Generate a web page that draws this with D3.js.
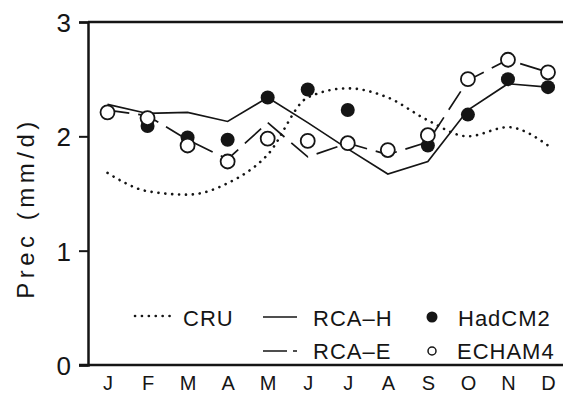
<!DOCTYPE html>
<html><head><meta charset="utf-8">
<script src="https://cdn.jsdelivr.net/npm/d3@7"></script>
<style>
html,body{margin:0;padding:0;background:#fff;}
svg{display:block;font-family:"Liberation Sans",Arial,sans-serif;}
</style></head>
<body>
<svg id="chart" width="563" height="395"></svg>
<script>
const months = ["J","F","M","A","M","J","J","A","S","O","N","D"];
const cru    = [1.68,1.52,1.49,1.59,1.84,2.34,2.42,2.34,2.14,2.00,2.08,1.92];
const rcaH   = [2.28,2.20,2.21,2.13,2.34,2.12,1.89,1.67,1.78,2.23,2.46,2.43];
const rcaE   = [2.23,2.18,1.97,1.80,2.12,1.82,1.94,1.84,1.95,2.49,2.67,2.56];
const hadcm2 = [2.21,2.09,1.99,1.97,2.34,2.41,2.23,1.88,1.92,2.19,2.50,2.43];
const echam4 = [2.21,2.16,1.92,1.78,1.98,1.96,1.94,1.88,2.01,2.50,2.67,2.56];
const yTicks = [0,1,2,3];

const svg = d3.select("#chart");
const ink = "#151515";
const idx = d3.range(months.length);
const x = d3.scalePoint().domain(idx).range([107.5,548]);
const y = d3.scaleLinear().domain([0,3]).range([365,22]);
const axisX = 88;

// frame lines
svg.append("line").attr("x1",axisX).attr("x2",563).attr("y1",y(3)).attr("y2",y(3))
  .attr("stroke",ink).attr("stroke-width",2.5);
svg.append("line").attr("x1",axisX-9).attr("x2",563).attr("y1",y(0)).attr("y2",y(0))
  .attr("stroke",ink).attr("stroke-width",2.5);

// y axis
const yAxis = d3.axisLeft(y).tickValues(yTicks).tickSize(9).tickPadding(8).tickFormat(d3.format("d"));
const gy = svg.append("g").attr("transform",`translate(${axisX},0)`).call(yAxis);
gy.select(".domain").attr("stroke",ink).attr("stroke-width",2.5);
gy.selectAll(".tick line").attr("stroke",ink).attr("stroke-width",2);
gy.selectAll(".tick text").attr("fill",ink).attr("font-size",26).attr("font-family","Liberation Sans, Arial, sans-serif")
  .attr("x",-17).attr("dy","0.36em");

// x labels
const xAxis = d3.axisBottom(x).tickSize(0).tickPadding(0).tickFormat(i=>months[i]);
const gx = svg.append("g").attr("transform",`translate(0,${y(0)})`).call(xAxis);
gx.select(".domain").remove();
gx.selectAll(".tick text").attr("fill",ink).attr("font-size",20).attr("font-family","Liberation Sans, Arial, sans-serif")
  .attr("dy",null).attr("y",25);

// y title
svg.append("text").attr("transform","translate(34,208) rotate(-90)")
  .attr("text-anchor","middle").attr("font-size",24).attr("letter-spacing",4.5).attr("fill",ink)
  .text("Prec (mm/d)");

// lines
const lineLin = d3.line().x((d,i)=>x(i)).y(d=>y(d));
const lineSmooth = d3.line().x((d,i)=>x(i)).y(d=>y(d)).curve(d3.curveMonotoneX);

svg.append("path").attr("d",lineSmooth(cru)).attr("fill","none").attr("stroke",ink)
  .attr("stroke-width",2.6).attr("stroke-linecap","round").attr("stroke-dasharray","0.1,6.8");
svg.append("path").attr("d",lineLin(rcaH)).attr("fill","none").attr("stroke",ink).attr("stroke-width",1.7);
svg.append("path").attr("d",lineLin(rcaE)).attr("fill","none").attr("stroke",ink).attr("stroke-width",1.7)
  .attr("stroke-dasharray","22,9");

// points
svg.append("g").selectAll("circle").data(hadcm2).join("circle")
  .attr("cx",(d,i)=>x(i)).attr("cy",d=>y(d)).attr("r",7).attr("fill",ink);
svg.append("g").selectAll("circle").data(echam4).join("circle")
  .attr("cx",(d,i)=>x(i)).attr("cy",d=>y(d)).attr("r",7).attr("fill","#fff")
  .attr("stroke",ink).attr("stroke-width",1.8);

// legend
const lg = svg.append("g").attr("font-size",22).attr("fill",ink).attr("letter-spacing",1);
lg.append("line").attr("x1",135).attr("x2",173).attr("y1",316).attr("y2",316).attr("stroke",ink)
  .attr("stroke-width",2.6).attr("stroke-linecap","round").attr("stroke-dasharray","0.1,6.8");
lg.append("text").attr("x",183).attr("y",326).text("CRU");
lg.append("line").attr("x1",263).attr("x2",297).attr("y1",317).attr("y2",317).attr("stroke",ink).attr("stroke-width",1.7);
lg.append("text").attr("x",313).attr("y",326).text("RCA\u2013H");
lg.append("line").attr("x1",263).attr("x2",297).attr("y1",351).attr("y2",351).attr("stroke",ink).attr("stroke-width",1.7)
  .attr("stroke-dasharray","24,6");
lg.append("text").attr("x",313).attr("y",359).text("RCA\u2013E");
lg.append("circle").attr("cx",432).attr("cy",317).attr("r",5.5).attr("fill",ink);
lg.append("text").attr("x",458).attr("y",326).text("HadCM2");
lg.append("circle").attr("cx",432).attr("cy",351).attr("r",4).attr("fill","#fff").attr("stroke",ink).attr("stroke-width",1.5);
lg.append("text").attr("x",457).attr("y",359).text("ECHAM4");
</script>
</body></html>
